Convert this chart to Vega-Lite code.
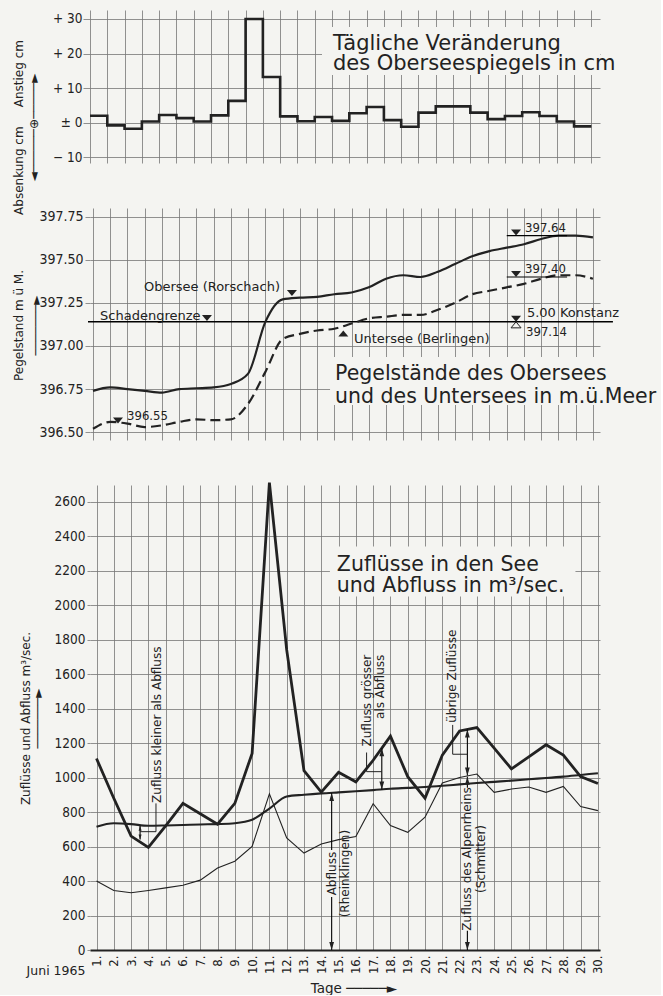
{
  "$schema": "https://vega.github.io/schema/vega-lite/v6.json",
  "background": "#f4f4f1",
  "padding": {"left": 11, "top": 10, "right": 4, "bottom": 0},
  "config": {
    "font": "DejaVu Sans, sans-serif",
    "view": {"stroke": null},
    "mark": {"color": "#222222"},
    "text": {"font": "DejaVu Sans, sans-serif", "color": "#222222"},
    "axis": {
      "gridColor": "#767676", "gridWidth": 0.8, "gridOpacity": 1,
      "tickColor": "#767676", "tickWidth": 0.8, "domain": false,
      "labelColor": "#222222", "titleColor": "#222222",
      "labelFont": "DejaVu Sans Condensed, DejaVu Sans, sans-serif",
      "titleFont": "DejaVu Sans, sans-serif",
      "titleFontWeight": "normal",
      "labelOverlap": false,
      "tickCount": 100
    }
  },
  "datasets": {
    "tagesaenderung": [
      {"tag": 1, "cm": 2}, {"tag": 2, "cm": -0.8}, {"tag": 3, "cm": -1.8}, {"tag": 4, "cm": 0.3},
      {"tag": 5, "cm": 2.2}, {"tag": 6, "cm": 1.3}, {"tag": 7, "cm": 0.3}, {"tag": 8, "cm": 2.1},
      {"tag": 9, "cm": 6.3}, {"tag": 10, "cm": 30}, {"tag": 11, "cm": 13.2}, {"tag": 12, "cm": 1.8},
      {"tag": 13, "cm": 0.4}, {"tag": 14, "cm": 1.6}, {"tag": 15, "cm": 0.5}, {"tag": 16, "cm": 2.7},
      {"tag": 17, "cm": 4.5}, {"tag": 18, "cm": 0.7}, {"tag": 19, "cm": -1.2}, {"tag": 20, "cm": 2.9},
      {"tag": 21, "cm": 4.7}, {"tag": 22, "cm": 4.7}, {"tag": 23, "cm": 2.9}, {"tag": 24, "cm": 1.0},
      {"tag": 25, "cm": 1.9}, {"tag": 26, "cm": 3.0}, {"tag": 27, "cm": 1.9}, {"tag": 28, "cm": 0.3},
      {"tag": 29, "cm": -1.1}, {"tag": 30, "cm": -1.1}
    ],
    "pegel": [
      {"tag": 1, "obersee": 396.74, "untersee": 396.52},
      {"tag": 2, "obersee": 396.76, "untersee": 396.56},
      {"tag": 3, "obersee": 396.75, "untersee": 396.55},
      {"tag": 4, "obersee": 396.74, "untersee": 396.53},
      {"tag": 5, "obersee": 396.73, "untersee": 396.54},
      {"tag": 6, "obersee": 396.75, "untersee": 396.56},
      {"tag": 7, "obersee": 396.755, "untersee": 396.575},
      {"tag": 8, "obersee": 396.76, "untersee": 396.57},
      {"tag": 9, "obersee": 396.78, "untersee": 396.575},
      {"tag": 10, "obersee": 396.84, "untersee": 396.665},
      {"tag": 11, "obersee": 397.14, "untersee": 396.85},
      {"tag": 12, "obersee": 397.27, "untersee": 397.04},
      {"tag": 13, "obersee": 397.28, "untersee": 397.07},
      {"tag": 14, "obersee": 397.285, "untersee": 397.09},
      {"tag": 15, "obersee": 397.3, "untersee": 397.1},
      {"tag": 16, "obersee": 397.31, "untersee": 397.13},
      {"tag": 17, "obersee": 397.34, "untersee": 397.16},
      {"tag": 18, "obersee": 397.39, "untersee": 397.17},
      {"tag": 19, "obersee": 397.41, "untersee": 397.18},
      {"tag": 20, "obersee": 397.4, "untersee": 397.18},
      {"tag": 21, "obersee": 397.43, "untersee": 397.21},
      {"tag": 22, "obersee": 397.475, "untersee": 397.25},
      {"tag": 23, "obersee": 397.52, "untersee": 397.3},
      {"tag": 24, "obersee": 397.55, "untersee": 397.32},
      {"tag": 25, "obersee": 397.57, "untersee": 397.34},
      {"tag": 26, "obersee": 397.59, "untersee": 397.36},
      {"tag": 27, "obersee": 397.62, "untersee": 397.39},
      {"tag": 28, "obersee": 397.64, "untersee": 397.41},
      {"tag": 29, "obersee": 397.64, "untersee": 397.41},
      {"tag": 30, "obersee": 397.63, "untersee": 397.39}
    ],
    "durchfluss": [
      {"tag": 1, "zufluss": 1110, "abfluss": 715, "alpenrhein": 400},
      {"tag": 2, "zufluss": 880, "abfluss": 735, "alpenrhein": 345},
      {"tag": 3, "zufluss": 660, "abfluss": 730, "alpenrhein": 332},
      {"tag": 4, "zufluss": 595, "abfluss": 720, "alpenrhein": 345},
      {"tag": 5, "zufluss": 720, "abfluss": 722, "alpenrhein": 360},
      {"tag": 6, "zufluss": 850, "abfluss": 725, "alpenrhein": 375},
      {"tag": 7, "zufluss": 790, "abfluss": 728, "alpenrhein": 405},
      {"tag": 8, "zufluss": 730, "abfluss": 730, "alpenrhein": 475},
      {"tag": 9, "zufluss": 850, "abfluss": 735, "alpenrhein": 515},
      {"tag": 10, "zufluss": 1140, "abfluss": 755, "alpenrhein": 600},
      {"tag": 11, "zufluss": 2710, "abfluss": 820, "alpenrhein": 905},
      {"tag": 12, "zufluss": 1740, "abfluss": 890, "alpenrhein": 650},
      {"tag": 13, "zufluss": 1040, "abfluss": 900, "alpenrhein": 562},
      {"tag": 14, "zufluss": 915, "abfluss": 908, "alpenrhein": 615},
      {"tag": 15, "zufluss": 1030, "abfluss": 914, "alpenrhein": 640},
      {"tag": 16, "zufluss": 975, "abfluss": 920, "alpenrhein": 658},
      {"tag": 17, "zufluss": 1100, "abfluss": 927, "alpenrhein": 848},
      {"tag": 18, "zufluss": 1240, "abfluss": 935, "alpenrhein": 722},
      {"tag": 19, "zufluss": 1005, "abfluss": 940, "alpenrhein": 682},
      {"tag": 20, "zufluss": 880, "abfluss": 945, "alpenrhein": 770},
      {"tag": 21, "zufluss": 1130, "abfluss": 952, "alpenrhein": 968},
      {"tag": 22, "zufluss": 1270, "abfluss": 960, "alpenrhein": 1000},
      {"tag": 23, "zufluss": 1290, "abfluss": 968, "alpenrhein": 1020},
      {"tag": 24, "zufluss": 1170, "abfluss": 975, "alpenrhein": 914},
      {"tag": 25, "zufluss": 1050, "abfluss": 982, "alpenrhein": 933},
      {"tag": 26, "zufluss": 1120, "abfluss": 990, "alpenrhein": 945},
      {"tag": 27, "zufluss": 1190, "abfluss": 997, "alpenrhein": 914},
      {"tag": 28, "zufluss": 1130, "abfluss": 1005, "alpenrhein": 948},
      {"tag": 29, "zufluss": 1005, "abfluss": 1015, "alpenrhein": 832},
      {"tag": 30, "zufluss": 965, "abfluss": 1025, "alpenrhein": 808}
    ]
  },
  "spacing": 45,
  "bounds": "flush",
  "vconcat": [
    {
      "width": 510,
      "height": 153,
      "layer": [
        {
          "data": {"values": [{}]},
          "mark": {"type": "rect", "fill": "#f4f4f1"},
          "encoding": {"x": {"datum": 14.42}, "x2": {"datum": 30.5}, "y": {"datum": 27.7}, "y2": {"datum": 13.8}}
        },
        {
          "data": {"name": "tagesaenderung"},
          "mark": {"type": "line", "interpolate": "step-after", "strokeWidth": 2.6},
          "encoding": {
            "x": {
              "field": "tag", "type": "quantitative",
              "scale": {"domain": [1, 30.5], "nice": false, "zero": false},
              "axis": {"values": [1,2,3,4,5,6,7,8,9,10,11,12,13,14,15,16,17,18,19,20,21,22,23,24,25,26,27,28,29,30], "tickCount": 100, "grid": true, "labels": false, "ticks": false, "title": null}
            },
            "y": {
              "field": "cm", "type": "quantitative",
              "scale": {"domain": [-11.7, 32.6], "nice": false, "zero": false},
              "axis": {
                "values": [-10, 0, 10, 20, 30], "tickCount": 100, "grid": true, "tickSize": 7, "labelPadding": 1, "labelFontSize": 13.5,
                "labelExpr": "datum.value > 0 ? '+ ' + datum.value : (datum.value < 0 ? '− ' + (-datum.value) : '± 0')",
                "title": ["Absenkung cm\u00a0\u00a0\u00a0\u00a0\u00a0Anstieg cm", "◄──────⊕─────►"],
                "titleX": -72, "titleY": 117, "titleAngle": -90, "titleAlign": "center", "titleBaseline": "middle",
                "titleFontSize": 12, "titleLineHeight": 15
              }
            }
          }
        },
        {
          "data": {"values": [{}]},
          "mark": {"type": "text", "text": ["Tägliche Veränderung", "des Oberseespiegels in cm"], "align": "left", "baseline": "alphabetic", "fontSize": 21, "lineHeight": 20},
          "encoding": {"x": {"datum": 15.05}, "y": {"datum": 21}}
        }
      ]
    },
    {
      "width": 510,
      "height": 232,
      "layer": [
        {
          "data": {"values": [{}]},
          "mark": {"type": "rect", "fill": "#f4f4f1"},
          "encoding": {"x": {"datum": 14.75}, "x2": {"datum": 33.6}, "y": {"datum": 396.936}, "y2": {"datum": 396.658}}
        },
        {
          "data": {"values": [{}]},
          "mark": {"type": "rule", "strokeWidth": 1.5},
          "encoding": {"x": {"datum": 0.71}, "x2": {"datum": 31.16}, "y": {"datum": 397.14}}
        },
        {
          "data": {"name": "pegel"},
          "mark": {"type": "line", "interpolate": "monotone", "strokeWidth": 2.2},
          "encoding": {
            "x": {
              "field": "tag", "type": "quantitative",
              "scale": {"domain": [0.826, 30.41], "nice": false, "zero": false},
              "axis": {"values": [1,2,3,4,5,6,7,8,9,10,11,12,13,14,15,16,17,18,19,20,21,22,23,24,25,26,27,28,29,30], "tickCount": 100, "grid": true, "labels": false, "ticks": false, "title": null}
            },
            "y": {
              "field": "obersee", "type": "quantitative",
              "scale": {"domain": [396.455, 397.8], "nice": false, "zero": false},
              "axis": {
                "values": [396.5, 396.75, 397, 397.25, 397.5, 397.75], "tickCount": 100, "format": ".2f", "grid": true,
                "tickSize": 5, "labelPadding": 2, "labelFontSize": 14,
                "title": ["Pegelstand m ü M.", "───────►"],
                "titleX": -72, "titleY": 117, "titleAngle": -90, "titleAlign": "center", "titleBaseline": "middle",
                "titleFontSize": 12, "titleLineHeight": 17
              }
            }
          }
        },
        {
          "data": {"name": "pegel"},
          "mark": {"type": "line", "interpolate": "monotone", "strokeWidth": 2.2, "strokeDash": [10, 5]},
          "encoding": {"x": {"field": "tag", "type": "quantitative"}, "y": {"field": "untersee", "type": "quantitative"}}
        },
        {
          "data": {"values": [{"von": 25.0, "bis": 28.5, "m": 397.64}, {"von": 25.0, "bis": 28.5, "m": 397.40}]},
          "mark": {"type": "rule", "strokeWidth": 1.2},
          "encoding": {"x": {"field": "von", "type": "quantitative"}, "x2": {"field": "bis"}, "y": {"field": "m", "type": "quantitative"}}
        },
        {
          "data": {"values": [
            {"tag": 25.54, "m": 397.64}, {"tag": 25.54, "m": 397.40}, {"tag": 25.54, "m": 397.14},
            {"tag": 2.45, "m": 396.55}, {"tag": 12.54, "m": 397.29}, {"tag": 7.61, "m": 397.145}
          ]},
          "mark": {"type": "point", "shape": "M0,0L1,-1.2L-1,-1.2Z", "filled": true, "size": 100, "opacity": 1},
          "encoding": {"x": {"field": "tag", "type": "quantitative"}, "y": {"field": "m", "type": "quantitative"}}
        },
        {
          "data": {"values": [{"tag": 15.52, "m": 397.09}]},
          "mark": {"type": "point", "shape": "M0,0L1,1.2L-1,1.2Z", "filled": true, "size": 100, "opacity": 1},
          "encoding": {"x": {"field": "tag", "type": "quantitative"}, "y": {"field": "m", "type": "quantitative"}}
        },
        {
          "data": {"values": [{"tag": 25.54, "m": 397.14}]},
          "mark": {"type": "point", "shape": "M0,0L1,1.2L-1,1.2Z", "filled": true, "fill": "#f4f4f1", "stroke": "#222222", "strokeWidth": 1, "size": 100, "opacity": 1},
          "encoding": {"x": {"field": "tag", "type": "quantitative"}, "y": {"field": "m", "type": "quantitative"}}
        },
        {
          "data": {"values": [{"tag": 25.54, "m": 397.64}, {"tag": 25.54, "m": 397.40}, {"tag": 2.45, "m": 396.55}]},
          "mark": {"type": "text", "align": "left", "baseline": "middle", "dx": 9, "dy": -8, "fontSize": 13, "font": "DejaVu Sans Condensed, DejaVu Sans, sans-serif"},
          "encoding": {"x": {"field": "tag", "type": "quantitative"}, "y": {"field": "m", "type": "quantitative"}, "text": {"field": "m", "type": "quantitative", "format": ".2f"}}
        },
        {
          "data": {"values": [{"tag": 25.54, "m": 397.14}]},
          "mark": {"type": "text", "align": "left", "baseline": "middle", "dx": 10, "dy": 10, "fontSize": 13, "font": "DejaVu Sans Condensed, DejaVu Sans, sans-serif"},
          "encoding": {"x": {"field": "tag", "type": "quantitative"}, "y": {"field": "m", "type": "quantitative"}, "text": {"field": "m", "type": "quantitative", "format": ".2f"}}
        },
        {
          "data": {"values": [{}]},
          "mark": {"type": "text", "text": "5.00 Konstanz", "align": "left", "baseline": "middle", "fontSize": 13},
          "encoding": {"x": {"datum": 26.17}, "y": {"datum": 397.19}}
        },
        {
          "data": {"values": [{}]},
          "mark": {"type": "text", "text": "Obersee (Rorschach)", "align": "right", "baseline": "middle", "fontSize": 13},
          "encoding": {"x": {"datum": 11.85}, "y": {"datum": 397.34}}
        },
        {
          "data": {"values": [{}]},
          "mark": {"type": "text", "text": "Schadengrenze", "align": "left", "baseline": "middle", "fontSize": 13},
          "encoding": {"x": {"datum": 1.41}, "y": {"datum": 397.175}}
        },
        {
          "data": {"values": [{}]},
          "mark": {"type": "text", "text": "Untersee (Berlingen)", "align": "left", "baseline": "middle", "fontSize": 13},
          "encoding": {"x": {"datum": 16.14}, "y": {"datum": 397.04}}
        },
        {
          "data": {"values": [{}]},
          "mark": {"type": "text", "text": ["Pegelstände des Obersees", "und des Untersees in m.ü.Meer"], "align": "left", "baseline": "alphabetic", "fontSize": 20.5, "lineHeight": 23},
          "encoding": {"x": {"datum": 15.04}, "y": {"datum": 396.8}}
        }
      ]
    },
    {
      "width": 510,
      "height": 465,
      "resolve": {"axis": {"x": "independent"}},
      "layer": [
        {
          "layer": [
            {
              "data": {"values": [{}]},
              "mark": {"type": "rect", "fill": "#f4f4f1"},
              "encoding": {"x": {"datum": 14.5}, "x2": {"datum": 28.7}, "y": {"datum": 2340}, "y2": {"datum": 2050}}
            },
            {
              "data": {"name": "durchfluss"},
              "mark": {"type": "line", "strokeWidth": 1.1},
              "encoding": {"x": {"field": "tag", "type": "quantitative"}, "y": {"field": "alpenrhein", "type": "quantitative"}}
            },
            {
              "data": {"name": "durchfluss"},
              "mark": {"type": "line", "interpolate": "monotone", "strokeWidth": 2.1},
              "encoding": {"x": {"field": "tag", "type": "quantitative"}, "y": {"field": "abfluss", "type": "quantitative"}}
            },
            {
              "data": {"name": "durchfluss"},
              "mark": {"type": "line", "strokeWidth": 2.8, "strokeJoin": "miter"},
              "encoding": {
                "x": {
                  "field": "tag", "type": "quantitative",
                  "scale": {"domain": [0.624, 30.12], "nice": false, "zero": false},
                  "axis": {
                    "values": [1,2,3,4,5,6,7,8,9,10,11,12,13,14,15,16,17,18,19,20,21,22,23,24,25,26,27,28,29,30], "tickCount": 100,
                    "grid": true, "ticks": false, "domain": true, "domainColor": "#222222", "domainWidth": 1.8,
                    "labelExpr": "datum.value + '.'", "labelAngle": -90, "labelAlign": "right", "labelBaseline": "middle",
                    "labelPadding": 5, "labelFontSize": 13,
                    "title": "Tage ─────►", "titleX": 263.5, "titleY": 38, "titleAlign": "center", "titleBaseline": "middle", "titleFontSize": 13.5
                  }
                },
                "y": {
                  "field": "zufluss", "type": "quantitative",
                  "scale": {"domain": [0, 2696], "nice": false, "zero": false},
                  "axis": {
                    "values": [0, 200, 400, 600, 800, 1000, 1200, 1400, 1600, 1800, 2000, 2200, 2400, 2600], "tickCount": 100, "format": "d", "grid": true,
                    "tickSize": 3, "labelPadding": 2, "labelFontSize": 13.5,
                    "title": ["Zuflüsse und Abfluss m³/sec.", "───────►"],
                    "titleX": -65, "titleY": 233, "titleAngle": -90, "titleAlign": "center", "titleBaseline": "middle",
                    "titleFontSize": 12, "titleLineHeight": 12
                  }
                }
              }
            },
            {
              "data": {"values": [
                {"tag": 3.52, "von": 640, "bis": 720},
                {"tag": 14.6, "von": 580, "bis": 910},
                {"tag": 14.6, "von": 0, "bis": 307},
                {"tag": 17.5, "von": 931, "bis": 1170},
                {"tag": 22.45, "von": 1012, "bis": 1279},
                {"tag": 22.45, "von": 940, "bis": 1004},
                {"tag": 22.45, "von": 0, "bis": 112}
              ]},
              "mark": {"type": "rule", "strokeWidth": 1.1},
              "encoding": {"x": {"field": "tag", "type": "quantitative"}, "y": {"field": "von", "type": "quantitative"}, "y2": {"field": "bis"}}
            },
            {
              "data": {"values": [{"tag": 14.6, "wert": 910}, {"tag": 17.5, "wert": 1170}, {"tag": 22.45, "wert": 1279}, {"tag": 22.45, "wert": 1004}]},
              "mark": {"type": "point", "shape": "M0,0L0.6,2L-0.6,2Z", "filled": true, "size": 64, "opacity": 1},
              "encoding": {"x": {"field": "tag", "type": "quantitative"}, "y": {"field": "wert", "type": "quantitative"}}
            },
            {
              "data": {"values": [{"tag": 14.6, "wert": 0}, {"tag": 17.5, "wert": 931}, {"tag": 22.45, "wert": 1012}, {"tag": 22.45, "wert": 0}]},
              "mark": {"type": "point", "shape": "M0,0L0.6,-2L-0.6,-2Z", "filled": true, "size": 64, "opacity": 1},
              "encoding": {"x": {"field": "tag", "type": "quantitative"}, "y": {"field": "wert", "type": "quantitative"}}
            },
            {
              "data": {"values": [{"tag": 3.52, "wert": 720}]},
              "mark": {"type": "point", "shape": "M0,0L0.6,2L-0.6,2Z", "filled": true, "size": 25, "opacity": 1},
              "encoding": {"x": {"field": "tag", "type": "quantitative"}, "y": {"field": "wert", "type": "quantitative"}}
            },
            {
              "data": {"values": [{"tag": 3.52, "wert": 640}]},
              "mark": {"type": "point", "shape": "M0,0L0.6,-2L-0.6,-2Z", "filled": true, "size": 25, "opacity": 1},
              "encoding": {"x": {"field": "tag", "type": "quantitative"}, "y": {"field": "wert", "type": "quantitative"}}
            },
            {
              "data": {"values": [
                {"linie": "kleiner", "nr": 1, "tag": 4.44, "wert": 850},
                {"linie": "kleiner", "nr": 2, "tag": 4.44, "wert": 686},
                {"linie": "kleiner", "nr": 3, "tag": 3.52, "wert": 686},
                {"linie": "groesser", "nr": 1, "tag": 16.62, "wert": 1145},
                {"linie": "groesser", "nr": 2, "tag": 16.62, "wert": 1034},
                {"linie": "groesser", "nr": 3, "tag": 17.5, "wert": 1034},
                {"linie": "uebrige", "nr": 1, "tag": 21.6, "wert": 1305},
                {"linie": "uebrige", "nr": 2, "tag": 21.6, "wert": 1135},
                {"linie": "uebrige", "nr": 3, "tag": 22.45, "wert": 1135}
              ]},
              "mark": {"type": "line", "strokeWidth": 1},
              "encoding": {
                "x": {"field": "tag", "type": "quantitative"},
                "y": {"field": "wert", "type": "quantitative"},
                "detail": {"field": "linie"},
                "order": {"field": "nr", "type": "quantitative"}
              }
            },
            {
              "data": {"values": [{}]},
              "mark": {"type": "text", "text": "Zufluss kleiner als Abfluss", "angle": 270, "align": "left", "baseline": "middle", "fontSize": 12},
              "encoding": {"x": {"datum": 4.52}, "y": {"datum": 853}}
            },
            {
              "data": {"values": [{}]},
              "mark": {"type": "text", "text": ["Abfluss", "(Rheinklingen)"], "angle": 270, "align": "center", "baseline": "middle", "fontSize": 12, "lineHeight": 13.5},
              "encoding": {"x": {"datum": 14.6}, "y": {"datum": 443}}
            },
            {
              "data": {"values": [{}]},
              "mark": {"type": "text", "text": ["Zufluss des Alpenrheins", "(Schmitter)"], "angle": 270, "align": "center", "baseline": "middle", "fontSize": 12, "lineHeight": 14},
              "encoding": {"x": {"datum": 22.45}, "y": {"datum": 528}}
            },
            {
              "data": {"values": [{}]},
              "mark": {"type": "text", "text": ["Zufluss grösser", "als Abfluss"], "angle": 270, "align": "right", "baseline": "middle", "fontSize": 12, "lineHeight": 13.5},
              "encoding": {"x": {"datum": 16.62}, "y": {"datum": 1712}}
            },
            {
              "data": {"values": [{}]},
              "mark": {"type": "text", "text": "übrige Zuflüsse", "angle": 270, "align": "left", "baseline": "middle", "fontSize": 12},
              "encoding": {"x": {"datum": 21.54}, "y": {"datum": 1317}}
            },
            {
              "data": {"values": [{}]},
              "mark": {"type": "text", "text": ["Zuflüsse in den See", "und Abfluss in m³/sec."], "align": "left", "baseline": "alphabetic", "fontSize": 20.5, "lineHeight": 21},
              "encoding": {"x": {"datum": 14.9}, "y": {"datum": 2195}}
            }
          ]
        },
        {
          "data": {"values": [{}]},
          "mark": {"type": "text", "text": " "},
          "encoding": {
            "x": {
              "datum": 1,
              "axis": {"orient": "bottom", "labels": false, "ticks": false, "grid": false, "domain": false, "title": "Juni 1965", "titleX": -34.5, "titleY": 20, "titleAlign": "center", "titleBaseline": "middle", "titleFontSize": 12.5, "titleAngle": 0}
            }
          }
        }
      ]
    }
  ]
}
